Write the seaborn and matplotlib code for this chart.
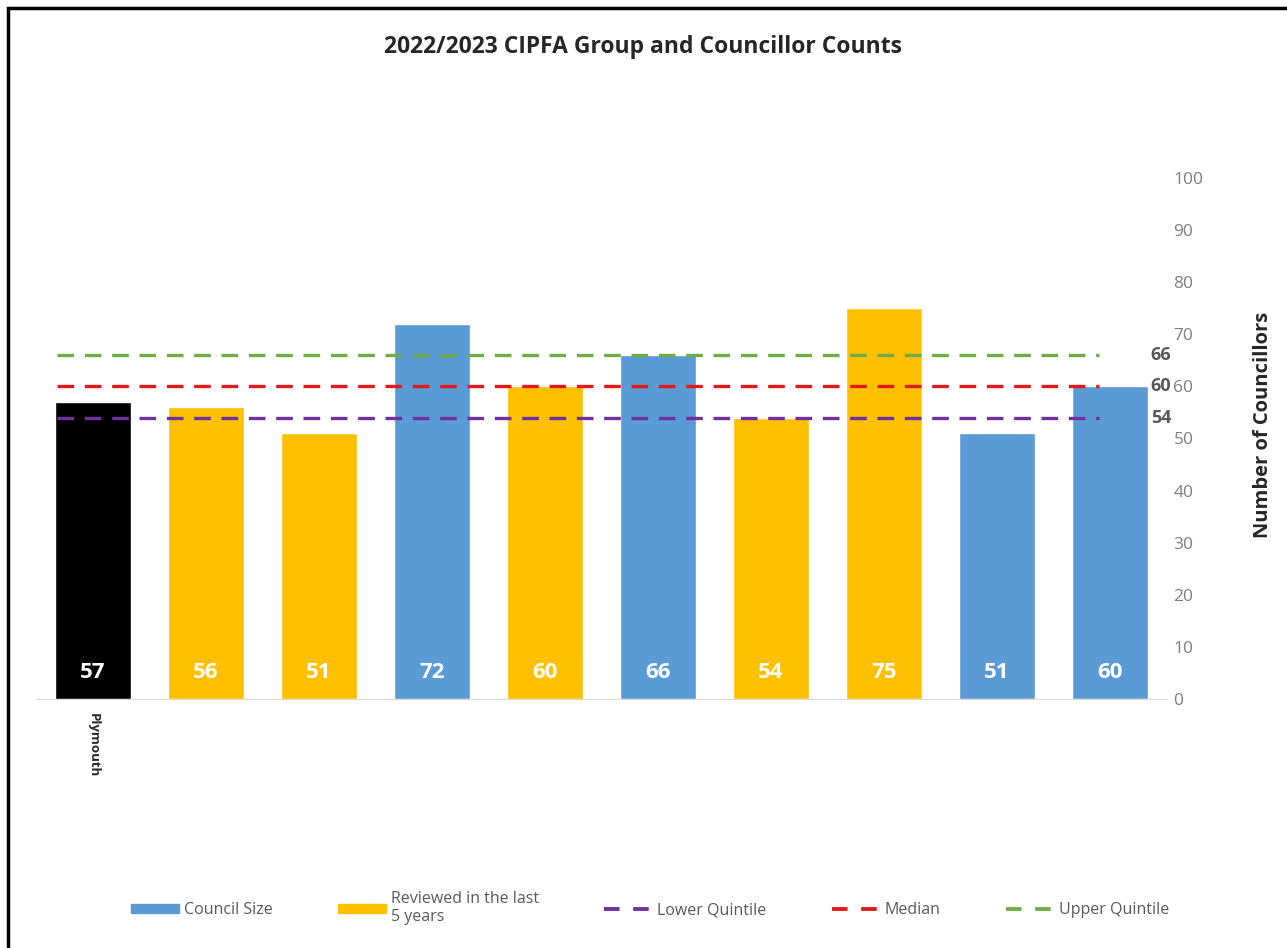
import matplotlib
matplotlib.use('Agg')
import pandas as pd
import seaborn as sns
from matplotlib import pyplot as plt
from matplotlib.patches import Patch, Rectangle
from matplotlib.lines import Line2D

councils = ['Plymouth', 'C2', 'C3', 'C4', 'C5', 'C6', 'C7', 'C8', 'C9', 'C10']
tick_labels = ['Plymouth', '', '', '', '', '', '', '', '', '']
councillors = [57, 56, 51, 72, 60, 66, 54, 75, 51, 60]
groups = ['Plymouth', 'Reviewed', 'Reviewed', 'Size', 'Reviewed',
          'Size', 'Reviewed', 'Reviewed', 'Size', 'Size']
lower_q = 54
median = 60
upper_q = 66

blue = '#5B9BD5'
gold = '#FFC000'
purple = '#7030A0'
red = '#E31A1C'
green = '#70AD47'
palette = {'Plymouth': 'black', 'Reviewed': gold, 'Size': blue}

df = pd.DataFrame({'council': councils, 'count': councillors, 'group': groups})

sns.set_style('white')
plt.rcParams['font.family'] = ['Open Sans', 'DejaVu Sans']

fig = plt.figure(figsize=(12.87, 9.48), dpi=100)
ax = fig.add_axes([0.0284, 0.2627, 0.878, 0.5496])

sns.barplot(data=df, x='council', y='count', hue='group', palette=palette,
            dodge=False, width=0.67, saturation=1, legend=False, ax=ax)

ax.set_xlim(-0.5, 9.5)
ax.set_ylim(0, 100)

# quintile / median lines
dash = (0, (5, 3.2))
ax.hlines(upper_q, -0.32, 8.9, colors=green, linestyles=dash, lw=2.4)
ax.hlines(median, -0.32, 8.9, colors=red, linestyles=dash, lw=2.4)
ax.hlines(lower_q, -0.32, 8.9, colors=purple, linestyles=dash, lw=2.4)
for v in [upper_q, median, lower_q]:
    ax.text(9.45, v, str(v), color='#595959', fontsize=13, fontweight='bold',
            va='center', ha='center')

# value labels inside bars
for i, v in enumerate(councillors):
    ax.text(i, 5, str(v), color='white', fontsize=16, fontweight='bold',
            ha='center', va='center')

# axes styling
for s in ['top', 'left', 'right']:
    ax.spines[s].set_visible(False)
ax.spines['bottom'].set_color('#D9D9D9')
ax.yaxis.tick_right()
ax.set_yticks(range(0, 101, 10))
ax.tick_params(axis='y', length=0, labelsize=12.5, labelcolor='#7F7F7F', pad=5)
ax.set_xticks(range(len(councils)))
ax.set_xticklabels(tick_labels, rotation=-90, fontsize=9.5, fontweight='bold')
ax.tick_params(axis='x', length=0, pad=10)
ax.set_xlabel('')
ax.set_ylabel('')
fig.text(0.981, 0.552, 'Number of Councillors', rotation=90, ha='center', va='center',
         fontsize=14.5, fontweight='bold')

fig.suptitle('2022/2023 CIPFA Group and Councillor Counts', x=0.5, y=0.963,
             fontsize=16.5, fontweight='bold')

handles = [
    Patch(color=blue, label='Council Size'),
    Patch(color=gold, label='Reviewed in the last\n5 years'),
    Line2D([], [], color=purple, ls=(0, (4, 3.5)), lw=2.8, label='Lower Quintile'),
    Line2D([], [], color=red, ls=(0, (4, 3.5)), lw=2.8, label='Median'),
    Line2D([], [], color=green, ls=(0, (4, 3.5)), lw=2.8, label='Upper Quintile'),
]
leg = fig.legend(handles=handles, loc='center', bbox_to_anchor=(0.505, 0.042),
                 ncol=5, frameon=False, fontsize=11.5, handlelength=3.0, handleheight=0.55,
                 columnspacing=4.1, handletextpad=0.3)
for t in leg.get_texts():
    t.set_color('#595959')

# outer frame
fig.patches.append(Rectangle((0.006, -0.01), 1.0, 1.002, transform=fig.transFigure,
                             fill=False, edgecolor='black', lw=2.5))

fig.savefig('out.png', dpi=100)
